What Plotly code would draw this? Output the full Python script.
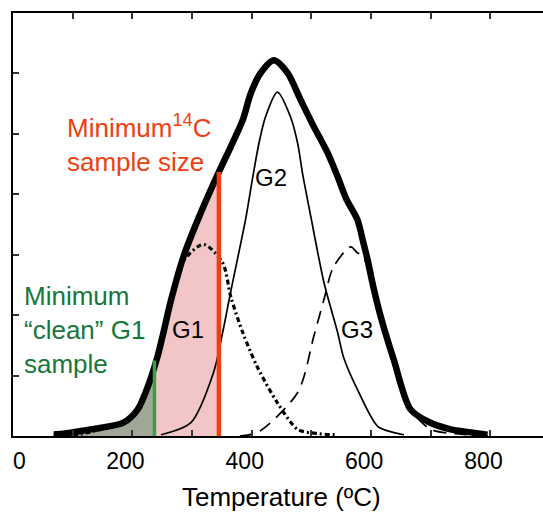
import numpy as np
import plotly.graph_objects as go

# ---- data ----
env_T = [68, 75, 130, 185, 209, 226, 242, 252, 264, 286, 314, 345, 365, 385, 398, 415, 437,
         460, 482, 504, 527, 544, 559, 577, 587, 594, 603, 616, 638, 666, 695, 733, 767, 795]
env_y = [0.03, 0.03, 0.11, 0.22, 0.44, 0.82, 1.31, 1.71, 2.22, 2.98, 3.68, 4.37, 4.79, 5.23, 5.66, 6.01, 6.22,
         6.01, 5.56, 5.12, 4.69, 4.29, 3.91, 3.58, 3.20, 2.92, 2.50, 1.98, 1.26, 0.44, 0.24, 0.11, 0.06, 0.02]

G1_T = [100, 130, 185, 209, 226, 242, 264, 286, 319, 351, 365, 385, 409, 443, 477, 510, 544]
G1_y = [0.0, 0.07, 0.22, 0.44, 0.82, 1.31, 2.22, 2.90, 3.17, 2.87, 2.30, 1.71, 1.15, 0.55, 0.11, 0.04, 0.02]

G2_T = [248, 298, 336, 351, 365, 390, 402, 412, 423, 443, 465, 477, 485, 499, 521, 544, 554, 578, 611, 637, 655]
G2_y = [0.02, 0.22, 1.05, 1.70, 2.40, 3.60, 4.30, 4.84, 5.28, 5.69, 5.28, 4.84, 4.35, 3.63, 2.54, 1.71, 1.30, 0.75, 0.16, 0.06, 0.02]

G3_T = [380, 410, 477, 504, 521, 537, 566, 577, 586, 599, 611, 638, 666, 700, 750, 800]
G3_y = [0.0, 0.06, 0.72, 1.65, 2.26, 2.80, 3.13, 3.03, 2.99, 2.59, 2.26, 1.26, 0.44, 0.11, 0.03, 0.0]

clean_T, clean_h = 237, 1.25      # minimum "clean" G1 sample
c14_T, c14_h = 345, 4.37          # minimum 14C sample size

label_ticks = [200, 400, 600, 800]
minor_ticks = [100, 300, 500, 700]

RED = "#EE3F0F"
GREEN_TXT = "#17773A"
GREEN_LINE = "#3A9F48"
PINK = "#F2C5C6"
GRAY = "#A1A797"
FONT = "Liberation Sans, Arial, sans-serif"


def segment(t0, t1):
    xs = [t0] + [t for t in env_T if t0 < t < t1] + [t1]
    ys = [float(np.interp(t0, env_T, env_y))] + [y for t, y in zip(env_T, env_y) if t0 < t < t1] + \
         [float(np.interp(t1, env_T, env_y))]
    return xs + [t1, t0], ys + [0, 0]


fig = go.Figure()

gx, gy = segment(env_T[0], clean_T)
fig.add_trace(go.Scatter(x=gx, y=gy, fill="toself", fillcolor=GRAY, line=dict(width=0),
                         mode="lines", hoverinfo="skip", showlegend=False))
px_, py_ = segment(clean_T, c14_T)
fig.add_trace(go.Scatter(x=px_, y=py_, fill="toself", fillcolor=PINK, line=dict(width=0),
                         mode="lines", hoverinfo="skip", showlegend=False))

fig.add_trace(go.Scatter(x=G1_T, y=G1_y, mode="lines", line=dict(color="black", width=3.2, dash="5px,3px,2px,3px",
                                                                 shape="spline", smoothing=0.8), showlegend=False))
fig.add_trace(go.Scatter(x=G3_T, y=G3_y, mode="lines", line=dict(color="black", width=1.7, dash="13px,8px",
                                                                 shape="spline", smoothing=0.8), showlegend=False))
fig.add_trace(go.Scatter(x=G2_T, y=G2_y, mode="lines", line=dict(color="black", width=1.7,
                                                                 shape="spline", smoothing=0.8), showlegend=False))
fig.add_trace(go.Scatter(x=env_T, y=env_y, mode="lines", line=dict(color="black", width=6.5,
                                                                   shape="spline", smoothing=0.8), showlegend=False))

fig.add_trace(go.Scatter(x=[clean_T, clean_T], y=[0, clean_h], mode="lines",
                         line=dict(color=GREEN_LINE, width=3.5), showlegend=False))
fig.add_trace(go.Scatter(x=[c14_T, c14_T], y=[0, c14_h], mode="lines",
                         line=dict(color=RED, width=4.5), showlegend=False))

annotations = [
    dict(x=87, y=4.84, xref="x", yref="y", text="Minimum<sup>14</sup>C<br>sample size", showarrow=False,
         xanchor="left", yanchor="middle", align="left", font=dict(size=26, color=RED, family=FONT)),
    dict(x=15, y=1.76, xref="x", yref="y", text="Minimum<br>“clean” G1<br>sample", showarrow=False,
         xanchor="left", yanchor="middle", align="left", font=dict(size=26, color=GREEN_TXT, family=FONT)),
    dict(x=293, y=1.76, xref="x", yref="y", text="G1", showarrow=False,
         font=dict(size=24, color="black", family=FONT)),
    dict(x=433, y=4.27, xref="x", yref="y", text="G2", showarrow=False,
         font=dict(size=24, color="black", family=FONT)),
    dict(x=576, y=1.76, xref="x", yref="y", text="G3", showarrow=False,
         font=dict(size=24, color="black", family=FONT)),
    dict(x=11, y=0, xref="x", yref="paper", text="0", showarrow=False, yanchor="top", yshift=-10,
         font=dict(size=23, color="black", family=FONT)),
    dict(x=0.5057, y=-0.145, xref="paper", yref="paper", text="Temperature (ºC)", showarrow=False,
         yanchor="middle", font=dict(size=26, color="black", family=FONT)),
]

tick_style = dict(ticks="inside", ticklen=6, tickwidth=1.5, tickcolor="#333")

fig.update_layout(
    width=543, height=513,
    margin=dict(l=13, r=0, t=13, b=77),
    paper_bgcolor="white", plot_bgcolor="white",
    showlegend=False,
    annotations=annotations,
    xaxis=dict(range=[0, 888], showgrid=False, zeroline=False, showline=True, linecolor="black",
               linewidth=2, mirror="ticks", tickvals=label_ticks, ticklabelshift=-7, ticklabelstandoff=3,
               tickfont=dict(size=23, color="black", family=FONT),
               minor=dict(tickvals=minor_ticks, showgrid=False, **tick_style), **tick_style),
    yaxis=dict(range=[0, 7], showgrid=False, zeroline=False, showline=True, linecolor="black",
               linewidth=2, tickvals=[1, 2, 3, 4, 5, 6], showticklabels=False, **tick_style),
)

fig.write_html("out.html")
